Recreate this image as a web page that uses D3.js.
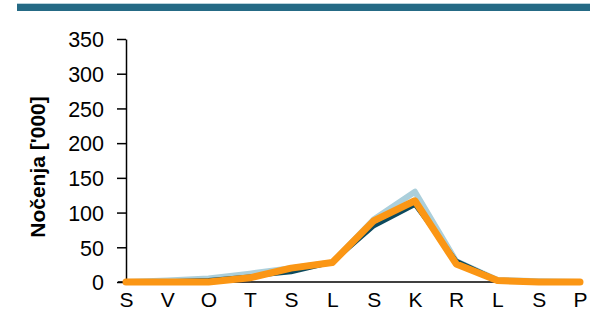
<!DOCTYPE html>
<html>
<head>
<meta charset="utf-8">
<script src="https://cdn.jsdelivr.net/npm/d3@7/dist/d3.min.js"></script>
<style>
  html, body { margin: 0; padding: 0; background: #fff; }
  svg { display: block; }
</style>
</head>
<body>
<svg id="chart" width="590" height="328"></svg>
<script>
// Months (Slovenian initials)
const months = ["S", "V", "O", "T", "S", "L", "S", "K", "R", "L", "S", "P"];
// Overnight stays in thousands, three seasons
const seriesLight = [0, 2, 5, 12, 20, 28, 90, 130, 30, 3, 1, 0];
const seriesDark = [0, 1, 3, 8, 14, 28, 80, 111, 31, 3, 1, 0];
const seriesOrange = [0, 0, 0, 6, 20, 28, 88, 117, 26, 2, 0, 0];
const yTicks = [0, 50, 100, 150, 200, 250, 300, 350];

const svg = d3.select("#chart");
const font = "Arial, 'Liberation Sans', sans-serif";

// Header band
svg.append("rect").attr("x", 17).attr("y", 3).attr("width", 573).attr("height", 1)
  .attr("fill", "#b9d3dc");
svg.append("rect").attr("x", 17).attr("y", 4).attr("width", 573).attr("height", 7)
  .attr("fill", "#256a85");

const x = d3.scalePoint().domain(d3.range(months.length)).range([126, 580]);
const y = d3.scaleLinear().domain([0, 350]).range([282, 39]);

// Y axis
const yAxis = svg.append("g").attr("transform", "translate(126,0)")
  .call(d3.axisLeft(y).tickValues(yTicks).tickSize(9).tickSizeOuter(0).tickPadding(13));
yAxis.select(".domain").attr("stroke", "#000").attr("stroke-width", 1.5);
yAxis.selectAll(".tick line").attr("stroke", "#000").attr("stroke-width", 1.5);
yAxis.selectAll(".tick text").attr("font-family", font).attr("font-size", 21.5).attr("fill", "#000")
  .attr("dy", "0.36em");

// X axis
const xAxis = svg.append("g").attr("transform", "translate(0,282)")
  .call(d3.axisBottom(x).tickFormat(i => months[i]).tickSize(0).tickPadding(0));
xAxis.select(".domain").attr("stroke", "#000").attr("stroke-width", 1.5)
  .attr("d", "M118,0H583");
xAxis.selectAll(".tick text").attr("font-family", font).attr("font-size", 21).attr("fill", "#000")
  .attr("y", 0).attr("dy", 0).attr("transform", "translate(0,25)");

// Y axis title
svg.append("text")
  .attr("transform", "translate(45,167) rotate(-90)")
  .attr("text-anchor", "middle")
  .attr("font-family", font).attr("font-size", 21).attr("font-weight", "bold")
  .text("Nočenja ['000]");

const line = d3.line().x((d, i) => x(i)).y(d => y(d));

svg.append("path").datum(seriesLight).attr("d", line)
  .attr("fill", "none").attr("stroke", "#abcfdb").attr("stroke-width", 6)
  .attr("stroke-linejoin", "round").attr("stroke-linecap", "round");
svg.append("path").datum(seriesDark).attr("d", line)
  .attr("fill", "none").attr("stroke", "#0c4a5e").attr("stroke-width", 4)
  .attr("stroke-linejoin", "round").attr("stroke-linecap", "round");
svg.append("path").datum(seriesOrange).attr("d", line)
  .attr("fill", "none").attr("stroke", "#fb9614").attr("stroke-width", 7)
  .attr("stroke-linejoin", "round").attr("stroke-linecap", "round");
</script>
</body>
</html>
